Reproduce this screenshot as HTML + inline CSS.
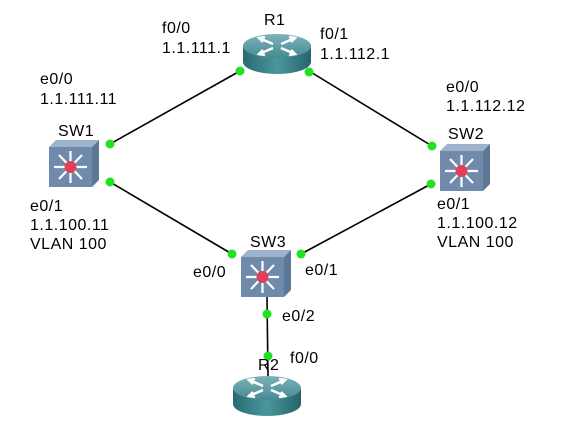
<!DOCTYPE html>
<html><head><style>
body{margin:0;background:#fff;}
svg{display:block;}
text{font-family:"Liberation Sans",sans-serif;font-size:16px;letter-spacing:0.5px;fill:#000;}
</style></head><body>
<svg width="561" height="431" viewBox="0 0 561 431">
<defs>
<linearGradient id="rt" x1="0" y1="0" x2="0" y2="1"><stop offset="0" stop-color="#7ab3ba"/><stop offset="1" stop-color="#478a92"/></linearGradient>
<linearGradient id="rb" x1="0" y1="0" x2="1" y2="0"><stop offset="0" stop-color="#2a6a71"/><stop offset="0.5" stop-color="#4a969e"/><stop offset="1" stop-color="#27646a"/></linearGradient>
<g id="sw">
<polygon points="0,7 7,0 50,0 43,7" fill="#9fb3cc"/>
<polygon points="43,7 50,0 50,40 43,47" fill="#5d7896"/>
<rect x="0" y="7" width="43" height="40" fill="#6f8aab"/>
<g stroke="#fff" stroke-width="2.2" fill="#fff">
<line x1="21.5" y1="27" x2="21.5" y2="11"/><line x1="21.5" y1="27" x2="21.5" y2="43"/>
<line x1="21.5" y1="27" x2="5" y2="27"/><line x1="21.5" y1="27" x2="38" y2="27"/>
<line x1="21.5" y1="27" x2="10" y2="15"/><line x1="21.5" y1="27" x2="33" y2="15"/>
<line x1="21.5" y1="27" x2="10" y2="39"/><line x1="21.5" y1="27" x2="33" y2="39"/>
</g>
<circle cx="21.5" cy="27" r="6" fill="#e0405a"/>
</g>
<g id="rtr">
<path d="M0,12 L0,28 A34,12 0 0 0 68,28 L68,12 Z" fill="url(#rb)"/>
<ellipse cx="34" cy="12" rx="34" ry="12" fill="url(#rt)"/>
<g stroke="#fff" stroke-width="2.5" fill="none">
<path d="M16,4 L30,10 M52,4 L38,10 M16,20 L30,14 M52,20 L38,14"/>
<path d="M22,3 L16,4 L20,8 M46,3 L52,4 L48,8 M22,21 L16,20 L20,16 M46,21 L52,20 L48,16"/>
</g>
</g>
</defs>
<g stroke="#000" stroke-width="1.6">
<line x1="240" y1="71" x2="110" y2="144"/>
<line x1="309" y1="71" x2="432" y2="146"/>
<line x1="110" y1="182" x2="232" y2="254"/>
<line x1="431" y1="184" x2="301" y2="254"/>
<line x1="267" y1="297" x2="268" y2="378"/>
</g>
<use href="#rtr" x="243" y="34"/>
<use href="#rtr" x="233" y="376"/>
<use href="#sw" x="49" y="140"/>
<use href="#sw" x="440" y="144"/>
<use href="#sw" x="241" y="250"/>
<g fill="#22e022">
<circle cx="240" cy="71" r="4.5"/><circle cx="309" cy="72" r="4.5"/>
<circle cx="110" cy="144" r="4.5"/><circle cx="110" cy="182" r="4.5"/>
<circle cx="432" cy="146" r="4.5"/><circle cx="431" cy="184" r="4.5"/>
<circle cx="232" cy="254" r="4.5"/><circle cx="301" cy="254" r="4.5"/>
<circle cx="267" cy="314" r="4.5"/><circle cx="268" cy="356" r="4.5"/>
</g>
<text x="264" y="25">R1</text>
<text x="162" y="33">f0/0</text><text x="162" y="53">1.1.111.1</text>
<text x="320" y="39">f0/1</text><text x="320" y="59">1.1.112.1</text>
<text x="40" y="84">e0/0</text><text x="40" y="104">1.1.111.11</text>
<text x="58" y="136">SW1</text>
<text x="30" y="211">e0/1</text><text x="30" y="230">1.1.100.11</text><text x="30" y="249">VLAN 100</text>
<text x="446" y="92">e0/0</text><text x="446" y="111">1.1.112.12</text>
<text x="448" y="139">SW2</text>
<text x="437" y="209">e0/1</text><text x="437" y="228">1.1.100.12</text><text x="437" y="247">VLAN 100</text>
<text x="250" y="247">SW3</text>
<text x="193" y="277">e0/0</text><text x="305" y="275">e0/1</text>
<text x="282" y="321">e0/2</text>
<text x="258" y="370">R2</text><text x="290" y="363">f0/0</text>
</svg>
</body></html>
